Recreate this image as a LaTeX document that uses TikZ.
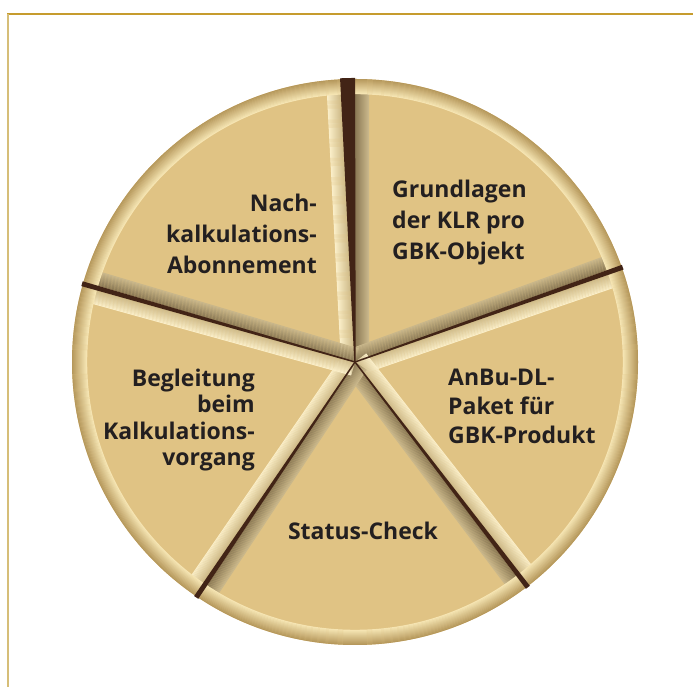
\documentclass[tikz,border=0pt]{standalone}
\usepackage{fontspec}
\setmainfont{Open Sans}
\usetikzlibrary{calc}
\definecolor{piefill}{RGB}{224,195,132}
\definecolor{rimdark}{RGB}{182,152,92}
\definecolor{rimlite}{RGB}{246,230,180}
\definecolor{bevlitfar}{RGB}{250,238,200}
\definecolor{bevlitnear}{RGB}{206,186,136}
\definecolor{bevdimnear}{RGB}{138,120,84}
\definecolor{bevdimfar}{RGB}{200,182,138}
\definecolor{barbrown}{RGB}{66,36,22}
\definecolor{inkdark}{RGB}{35,31,32}
\definecolor{goldtop}{RGB}{198,156,46}
\definecolor{goldleft}{RGB}{214,190,120}
% bevels along one cut: #1 angle, #2 side of the light bevel (1 or -1), #3 half width of the cut at the rim
\newcommand\piebevel[3]{\foreach \k [evaluate=\k as \mix using \k*100/13] in {0,...,13} {
\fill[bevlitfar!\mix!bevlitnear, shift={(mid)}, rotate=#1, yscale=#2] (0,\k) -- (268,#3+\k) -- (268,#3+\k+1.05) -- (0,\k+1.05) -- cycle;
\fill[bevdimfar!\mix!bevdimnear, shift={(mid)}, rotate=#1, yscale=#2] (0,-\k) -- (268,-#3-\k) -- (268,-#3-\k-1.05) -- (0,-\k-1.05) -- cycle;}}
% dark cut: #1 angle, #2 width at the rim
\newcommand\piebar[2]{\fill[barbrown, shift={(mid)}, rotate=#1] (0,-0.7) -- (284,-#2/2) -- (284,#2/2) -- (0,0.7) -- cycle;}

\begin{document}
\begin{tikzpicture}[x=1pt, y=1pt,
  pietext/.style={font=\bfseries\fontsize{23}{31}\selectfont, text=inkdark, inner sep=0pt}]
\useasboundingbox (0,0) rectangle (693,687);
\coordinate (mid) at (355,325);
\draw[goldtop, line width=1.6pt] (7,673) -- (693,673);
\draw[goldleft, line width=1.6pt] (7.8,673) -- (7.8,0);

\fill[piefill] (mid) circle (283);

\piebevel{91.5}{1}{7}
\piebevel{19.5}{-1}{2.5}
\piebevel{-52.5}{1}{2.5}
\piebevel{-124}{-1}{2.5}
\piebevel{164}{1}{2.5}

\foreach \k [evaluate=\k as \mix using 100-\k*7] in {0,...,14}
  \draw[line width=1.2pt, rimdark!\mix!rimlite] (mid) circle (282.4-\k);

\piebar{91.5}{15}
\piebar{19.5}{5}
\piebar{-52.5}{5}
\piebar{-124}{5}
\piebar{164}{5}

\node[pietext, anchor=west, align=left] (grund) at (392,464) {Grundlagen\\der KLR pro\\GBK-Objekt};
\node[pietext, anchor=east, align=right] (nach) at (317,453) {Nach-\\kalkulations-\\Abonnement};
\node[pietext, anchor=east, align=right, font=\bfseries\fontsize{23}{26.5}\selectfont] (begl) at (255,267) {Begleitung\\beim\\Kalkulations-\\vorgang};
\node[pietext, anchor=west, align=left, font=\bfseries\fontsize{23}{29}\selectfont] (anbu) at (448,281) {AnBu-DL-\\Paket für\\GBK-Produkt};
\node[pietext, anchor=base] (status) at (363,147) {Status-Check};
\end{tikzpicture}
\end{document}
